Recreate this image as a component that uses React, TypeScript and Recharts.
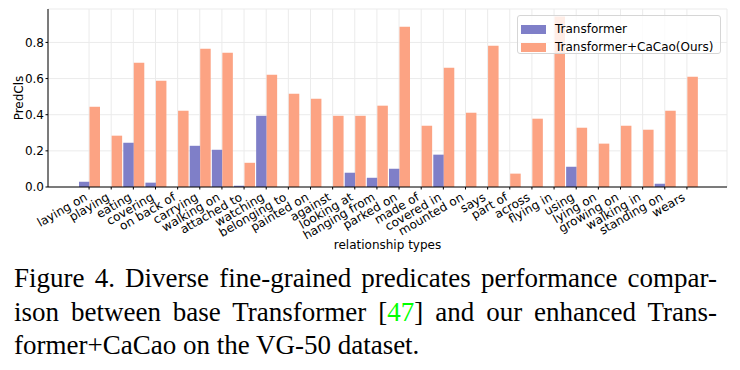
import React from "react";
import { BarChart, Bar, XAxis, YAxis, CartesianGrid, Legend, Label } from "recharts";

const categories = [
  "laying on", "playing", "eating", "covering", "on back of", "carrying", "walking on",
  "attached to", "watching", "belonging to", "painted on", "against", "looking at",
  "hanging from", "parked on", "made of", "covered in", "mounted on", "says", "part of",
  "across", "flying in", "using", "lying on", "growing on", "walking in", "standing on", "wears",
];
const transformer = [
  0.029, 0, 0.245, 0.024, 0, 0.228, 0.206, 0.007, 0.394, 0, 0, 0, 0.079, 0.051, 0.101,
  0, 0.179, 0, 0, 0, 0, 0, 0.112, 0, 0, 0, 0.018, 0,
];
const cacao = [
  0.444, 0.284, 0.688, 0.588, 0.422, 0.765, 0.743, 0.134, 0.621, 0.516, 0.489, 0.394, 0.394,
  0.45, 0.887, 0.339, 0.66, 0.411, 0.782, 0.074, 0.378, 0.944, 0.328, 0.24, 0.339, 0.317,
  0.422, 0.61,
];
const seriesNames = ["Transformer", "Transformer+CaCao(Ours)"];
const seriesColors = ["#7f7fc8", "#fca383"];
const yTicks = [0, 0.2, 0.4, 0.6, 0.8];

const data = categories.map((name, i) => ({ name, t: transformer[i], c: cacao[i] }));

const FONT = "DejaVu Sans";

const XTick = (props: any) => {
  const { x, y, payload } = props;
  return (
    <g transform={`translate(${x - 1},${y + 9}) rotate(-30)`}>
      <text textAnchor="end" fontSize={12} fill="#000" fontFamily={FONT}>
        {payload.value}
      </text>
    </g>
  );
};

const LegendBox = () => (
  <div
    style={{
      width: 204,
      height: 39,
      boxSizing: "border-box",
      border: "1px solid #d6d6d6",
      borderRadius: 3,
      background: "rgba(255,255,255,0.8)",
      padding: "4px 0 0 3px",
      fontFamily: FONT,
      fontSize: 12,
      color: "#000",
    }}
  >
    {seriesNames.map((n, i) => (
      <div key={n} style={{ display: "flex", alignItems: "center", height: 18 }}>
        <span style={{ width: 25, height: 9, background: seriesColors[i], marginRight: 9 }} />
        <span>{n}</span>
      </div>
    ))}
  </div>
);

export default function App() {
  return (
    <div style={{ position: "absolute", left: 0, top: 0, width: 740, height: 370, background: "#fff" }}>
      <BarChart
        width={740}
        height={256}
        data={data}
        margin={{ top: 9, right: 13, left: 0, bottom: 0 }}
        barGap={0}
      >
        <CartesianGrid stroke="#ebebeb" />
        <XAxis
          dataKey="name"
          interval={0}
          height={69}
          padding={{ left: 30, right: 29 }}
          tick={<XTick />}
          tickSize={2.5}
          tickMargin={1}
          axisLine={{ stroke: "#000" }}
          tickLine={{ stroke: "#000" }}
        >
          <Label
            value="relationship types"
            position="insideBottom"
            offset={7}
            style={{ fontSize: 12, fontFamily: FONT, fill: "#000" }}
          />
        </XAxis>
        <XAxis xAxisId="top" dataKey="name" orientation="top" height={0} tick={false} tickLine={false} axisLine={{ stroke: "#000" }} />
        <YAxis
          width={48}
          domain={[0, 0.985]}
          ticks={yTicks}
          tickFormatter={(v: number) => v.toFixed(1)}
          tick={{ fontSize: 12, fontFamily: FONT, fill: "#000" }}
          tickSize={2.5}
          tickMargin={1.5}
          axisLine={{ stroke: "#000" }}
          tickLine={{ stroke: "#000" }}
        >
          <Label
            content={(p: any) => {
              const vb = p.viewBox || { x: 0, y: 9, width: 48, height: 178 };
              const cx = vb.x + 19;
              const cy = vb.y + vb.height / 2;
              return (
                <text
                  x={cx}
                  y={cy}
                  transform={`rotate(-90,${cx},${cy})`}
                  textAnchor="middle"
                  dominantBaseline="central"
                  fontSize={12}
                  fontFamily={FONT}
                  fill="#000"
                >
                  PredCls
                </text>
              );
            }}
          />
        </YAxis>
        <YAxis yAxisId="right" orientation="right" width={0} domain={[0, 0.985]} tick={false} tickLine={false} axisLine={{ stroke: "#000" }} />
        <Legend
          layout="vertical"
          align="center"
          verticalAlign="middle"
          wrapperStyle={{ top: 15, left: 517, width: 204, height: 39 }}
          content={() => <LegendBox />}
        />
        <Bar dataKey="t" name={seriesNames[0]} fill={seriesColors[0]} barSize={10.5} isAnimationActive={false} />
        <Bar dataKey="c" name={seriesNames[1]} fill={seriesColors[1]} barSize={10.5} isAnimationActive={false} />
      </BarChart>
      <div
        style={{
          position: "absolute",
          left: 14,
          top: 262,
          width: 703,
          fontFamily: "Liberation Serif",
          fontSize: 27,
          lineHeight: "33.5px",
          color: "#000",
        }}
      >
        <div style={{ textAlign: "justify", textAlignLast: "justify", whiteSpace: "nowrap" }}>
          Figure 4. Diverse fine-grained predicates performance compar-
        </div>
        <div style={{ textAlign: "justify", textAlignLast: "justify", whiteSpace: "nowrap" }}>
          ison between base Transformer [<span style={{ color: "#00ff00" }}>47</span>] and our enhanced Trans-
        </div>
        <div>former+CaCao on the VG-50 dataset.</div>
      </div>
    </div>
  );
}
